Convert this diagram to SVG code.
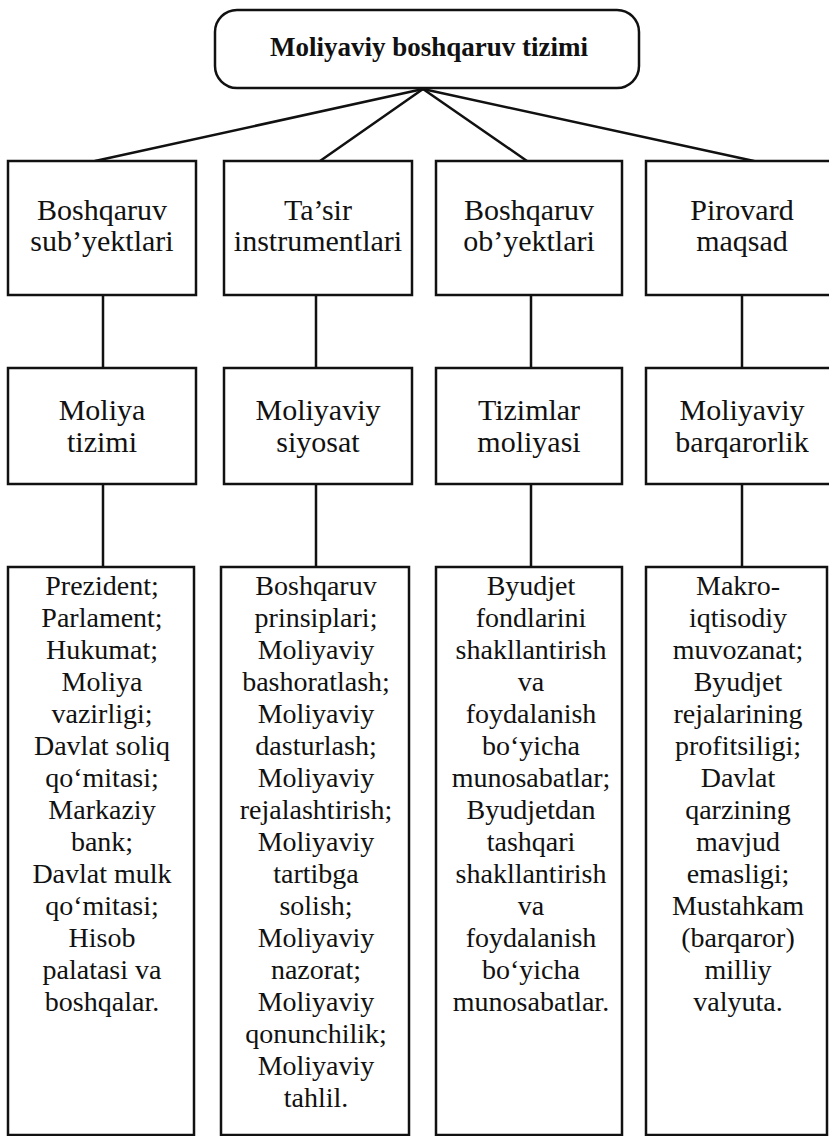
<svg xmlns="http://www.w3.org/2000/svg" width="829" height="1136" viewBox="0 0 829 1136">
<style>
.box{fill:#fff;stroke:#111;stroke-width:2.5}
.t{font-family:"Liberation Serif","Times New Roman","DejaVu Serif",serif;text-anchor:middle;fill:#111}
.title{font-size:27px;font-weight:bold}
.l1{font-size:30px}
.l3{font-size:28px}
#connectors line{stroke:#111;stroke-width:2.5;stroke-linecap:round}
</style>
<rect width="829" height="1136" fill="#fff"/>
<g id="connectors">
<line x1="423" y1="89" x2="95" y2="161"/>
<line x1="423" y1="89" x2="320" y2="161"/>
<line x1="423" y1="89" x2="527" y2="161"/>
<line x1="423" y1="89" x2="754" y2="161"/>
<line x1="103" y1="295" x2="103" y2="368"/>
<line x1="316" y1="295" x2="316" y2="368"/>
<line x1="531" y1="295" x2="531" y2="368"/>
<line x1="742" y1="295" x2="742" y2="368"/>
<line x1="103" y1="484" x2="103" y2="567"/>
<line x1="316" y1="484" x2="316" y2="567"/>
<line x1="531" y1="484" x2="531" y2="567"/>
<line x1="742" y1="484" x2="742" y2="567"/>
</g>
<g id="root">
<rect class="box" x="215" y="10" width="424" height="78" rx="22" ry="22"/>
<text class="t title" x="429" y="56">Moliyaviy boshqaruv tizimi</text>
</g>
<g id="n1a"><rect class="box" x="8" y="161" width="188" height="134"/>
<text class="t l1" x="102" y="220">Boshqaruv</text><text class="t l1" x="102" y="251">sub’yektlari</text></g>
<g id="n1b"><rect class="box" x="224" y="161" width="188" height="134"/>
<text class="t l1" x="318" y="220">Ta’sir</text><text class="t l1" x="318" y="251">instrumentlari</text></g>
<g id="n1c"><rect class="box" x="436" y="161" width="186" height="134"/>
<text class="t l1" x="529" y="220">Boshqaruv</text><text class="t l1" x="529" y="251">ob’yektlari</text></g>
<g id="n1d"><rect class="box" x="646" y="161" width="188" height="134"/>
<text class="t l1" x="742" y="220">Pirovard</text><text class="t l1" x="742" y="251">maqsad</text></g>
<g id="n2a"><rect class="box" x="8" y="368" width="188" height="116"/>
<text class="t l1" x="102" y="420">Moliya</text><text class="t l1" x="102" y="452">tizimi</text></g>
<g id="n2b"><rect class="box" x="224" y="368" width="188" height="116"/>
<text class="t l1" x="318" y="420">Moliyaviy</text><text class="t l1" x="318" y="452">siyosat</text></g>
<g id="n2c"><rect class="box" x="436" y="368" width="186" height="116"/>
<text class="t l1" x="529" y="420">Tizimlar</text><text class="t l1" x="529" y="452">moliyasi</text></g>
<g id="n2d"><rect class="box" x="646" y="368" width="188" height="116"/>
<text class="t l1" x="742" y="420">Moliyaviy</text><text class="t l1" x="742" y="452">barqarorlik</text></g>
<g id="n3a"><rect class="box" x="8" y="567" width="186" height="568"/>
<text class="t l3" x="102" y="595">Prezident;<tspan x="102" dy="32">Parlament;</tspan><tspan x="102" dy="32">Hukumat;</tspan><tspan x="102" dy="32">Moliya</tspan><tspan x="102" dy="32">vazirligi;</tspan><tspan x="102" dy="32">Davlat soliq</tspan><tspan x="102" dy="32">qo‘mitasi;</tspan><tspan x="102" dy="32">Markaziy</tspan><tspan x="102" dy="32">bank;</tspan><tspan x="102" dy="32">Davlat mulk</tspan><tspan x="102" dy="32">qo‘mitasi;</tspan><tspan x="102" dy="32">Hisob</tspan><tspan x="102" dy="32">palatasi va</tspan><tspan x="102" dy="32">boshqalar.</tspan></text></g>
<g id="n3b"><rect class="box" x="221" y="567" width="188" height="568"/>
<text class="t l3" x="316" y="595">Boshqaruv<tspan x="316" dy="32">prinsiplari;</tspan><tspan x="316" dy="32">Moliyaviy</tspan><tspan x="316" dy="32">bashoratlash;</tspan><tspan x="316" dy="32">Moliyaviy</tspan><tspan x="316" dy="32">dasturlash;</tspan><tspan x="316" dy="32">Moliyaviy</tspan><tspan x="316" dy="32">rejalashtirish;</tspan><tspan x="316" dy="32">Moliyaviy</tspan><tspan x="316" dy="32">tartibga</tspan><tspan x="316" dy="32">solish;</tspan><tspan x="316" dy="32">Moliyaviy</tspan><tspan x="316" dy="32">nazorat;</tspan><tspan x="316" dy="32">Moliyaviy</tspan><tspan x="316" dy="32">qonunchilik;</tspan><tspan x="316" dy="32">Moliyaviy</tspan><tspan x="316" dy="32">tahlil.</tspan></text></g>
<g id="n3c"><rect class="box" x="436" y="567" width="186" height="568"/>
<text class="t l3" x="531" y="595">Byudjet<tspan x="531" dy="32">fondlarini</tspan><tspan x="531" dy="32">shakllantirish</tspan><tspan x="531" dy="32">va</tspan><tspan x="531" dy="32">foydalanish</tspan><tspan x="531" dy="32">bo‘yicha</tspan><tspan x="531" dy="32">munosabatlar;</tspan><tspan x="531" dy="32">Byudjetdan</tspan><tspan x="531" dy="32">tashqari</tspan><tspan x="531" dy="32">shakllantirish</tspan><tspan x="531" dy="32">va</tspan><tspan x="531" dy="32">foydalanish</tspan><tspan x="531" dy="32">bo‘yicha</tspan><tspan x="531" dy="32">munosabatlar.</tspan></text></g>
<g id="n3d"><rect class="box" x="646" y="567" width="181" height="568"/>
<text class="t l3" x="738" y="595">Makro-<tspan x="738" dy="32">iqtisodiy</tspan><tspan x="738" dy="32">muvozanat;</tspan><tspan x="738" dy="32">Byudjet</tspan><tspan x="738" dy="32">rejalarining</tspan><tspan x="738" dy="32">profitsiligi;</tspan><tspan x="738" dy="32">Davlat</tspan><tspan x="738" dy="32">qarzining</tspan><tspan x="738" dy="32">mavjud</tspan><tspan x="738" dy="32">emasligi;</tspan><tspan x="738" dy="32">Mustahkam</tspan><tspan x="738" dy="32">(barqaror)</tspan><tspan x="738" dy="32">milliy</tspan><tspan x="738" dy="32">valyuta.</tspan></text></g>
</svg>
